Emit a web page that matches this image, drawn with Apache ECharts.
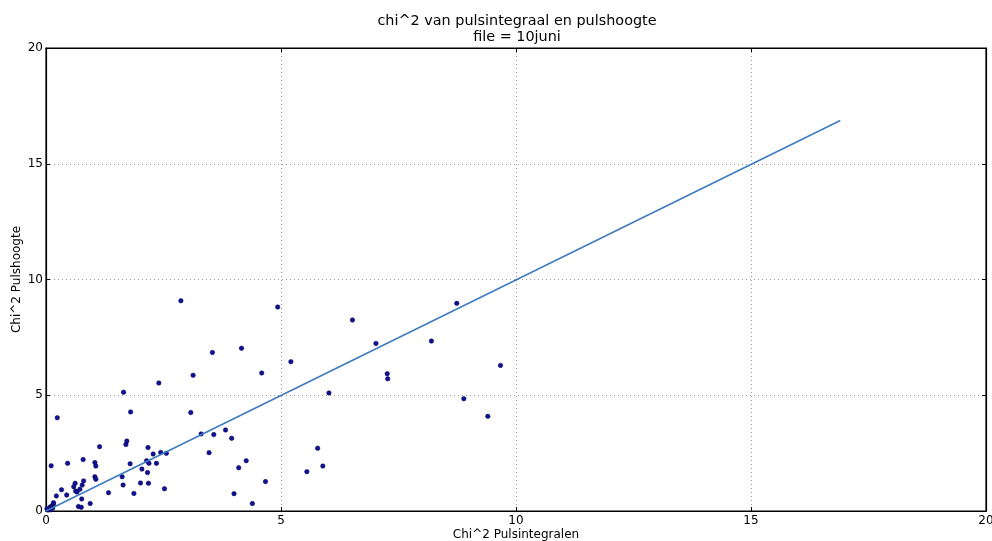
<!DOCTYPE html>
<html>
<head>
<meta charset="utf-8">
<script src="https://cdn.jsdelivr.net/npm/echarts@6/dist/echarts.min.js"></script>
<style>
html,body{margin:0;padding:0;background:#fff;}
#chart{width:992px;height:541px;}
</style>
</head>
<body>
<div id="chart"></div>
<script>
var titleText = 'chi^2 van pulsintegraal en pulshoogte\nfile = 10juni';
var xName = 'Chi^2 Pulsintegralen';
var yName = 'Chi^2 Pulshoogte';
var tickValues = [0, 5, 10, 15, 20];

var chiIntegraal = [
  0.04, 0.07, 0.085, 0.12, 0.14, 0.16, 0.02, 0.10,
  0.16, 0.22, 0.33, 0.44, 0.11, 0.24, 0.46, 0.79, 1.14,
  1.70, 1.72, 1.04, 1.06, 1.79, 1.04, 1.06, 1.62, 1.64, 1.33,
  0.80, 0.77, 0.62, 0.59, 0.63, 0.66, 0.72, 0.76, 0.69, 0.75, 0.94,
  1.65, 2.40, 1.80, 3.08,
  2.17, 2.28, 2.44, 2.56, 2.14, 2.19, 2.35, 2.04, 2.16, 2.01, 2.18, 1.87, 2.52,
  3.30, 3.57, 3.47,
  2.87, 4.93, 6.52, 7.02, 3.54, 4.16, 5.21, 3.13, 4.59, 7.26, 7.27, 6.02,
  3.82, 3.95, 4.26, 4.10, 4.67, 4.00, 4.39,
  5.78, 5.89, 5.55,
  8.74, 8.20, 9.67, 8.89, 9.40
];
var chiHoogte = [
  0.04, 0.07, 0.16, 0.22, 0.12, 0.30, 0.10, 0.05,
  0.36, 0.65, 0.92, 0.69, 1.95, 4.03, 2.06, 2.22, 2.78,
  2.87, 3.02, 2.09, 1.94, 2.04, 1.48, 1.37, 1.48, 1.12, 0.79,
  1.30, 1.12, 1.20, 1.05, 0.86, 0.82, 0.94, 0.52, 0.19, 0.16, 0.32,
  5.13, 5.53, 4.28, 4.25,
  2.74, 2.46, 2.53, 2.49, 2.17, 2.06, 2.06, 1.81, 1.66, 1.21, 1.20, 0.76, 0.96,
  3.33, 3.30, 2.52,
  9.08, 8.81, 8.25, 7.24, 6.85, 7.03, 6.45, 5.86, 5.96, 5.93, 5.71, 5.10,
  3.50, 3.14, 2.17, 1.87, 1.27, 0.75, 0.32,
  2.71, 1.94, 1.70,
  8.97, 7.34, 6.29, 4.85, 4.09
];
var fitX = [0, 16.9];
var fitY = [0, 16.87];

var font = 'DejaVu Sans';
var points = chiIntegraal.map(function (v, i) { return [v, chiHoogte[i]]; });
var fitLine = fitX.map(function (v, i) { return [v, fitY[i]]; });

function baseAxis(extra) {
  var a = {
    type: 'value', min: tickValues[0], max: tickValues[tickValues.length - 1], interval: 5,
    axisLine: { show: true, onZero: false, lineStyle: { color: '#000', width: 1.2 } },
    axisTick: { show: true, inside: true, length: 4, lineStyle: { color: '#000' } },
    splitLine: { show: false },
    axisLabel: { show: false }
  };
  for (var k in extra) a[k] = extra[k];
  return a;
}

var chart = echarts.init(document.getElementById('chart'), null, { renderer: 'canvas' });
chart.setOption({
  backgroundColor: '#fff',
  animation: false,
  title: {
    text: titleText,
    left: 517, top: 14, textAlign: 'center', padding: 0,
    textStyle: { fontFamily: font, fontSize: 14.4, fontWeight: 'normal', color: '#000', lineHeight: 15.5 }
  },
  grid: { left: 46, top: 48, width: 940, height: 463, show: true, borderColor: '#000', borderWidth: 1.2,
          containLabel: false, outerBoundsMode: 'none' },
  xAxis: [
    baseAxis({
      position: 'bottom',
      name: xName, nameLocation: 'middle', nameGap: 18, nameMoveOverlap: false,
      nameTextStyle: { fontFamily: font, fontSize: 12, color: '#000' },
      axisLabel: { show: true, fontFamily: font, fontSize: 12, color: '#000', margin: 4 },
      splitLine: { show: true, lineStyle: { color: '#999', type: [1, 3], width: 1 } }
    }),
    baseAxis({ position: 'top' })
  ],
  yAxis: [
    baseAxis({
      position: 'left',
      name: yName, nameLocation: 'middle', nameGap: 23, nameMoveOverlap: false,
      nameTextStyle: { fontFamily: font, fontSize: 12, color: '#000' },
      axisLabel: { show: true, fontFamily: font, fontSize: 12, color: '#000', margin: 3 },
      splitLine: { show: true, lineStyle: { color: '#999', type: [1, 3], width: 1 } }
    }),
    baseAxis({ position: 'right' })
  ],
  series: [
    {
      type: 'scatter', xAxisIndex: 0, yAxisIndex: 0, data: points,
      symbol: 'circle', symbolSize: 4.5,
      itemStyle: { color: '#10109a', borderColor: '#000040', borderWidth: 0.5, opacity: 1 },
      z: 2
    },
    {
      type: 'line', xAxisIndex: 0, yAxisIndex: 0, data: fitLine,
      showSymbol: false, symbol: 'none',
      lineStyle: { color: '#3f7cbf', width: 1.6 },
      z: 3
    }
  ]
});
</script>
</body>
</html>
